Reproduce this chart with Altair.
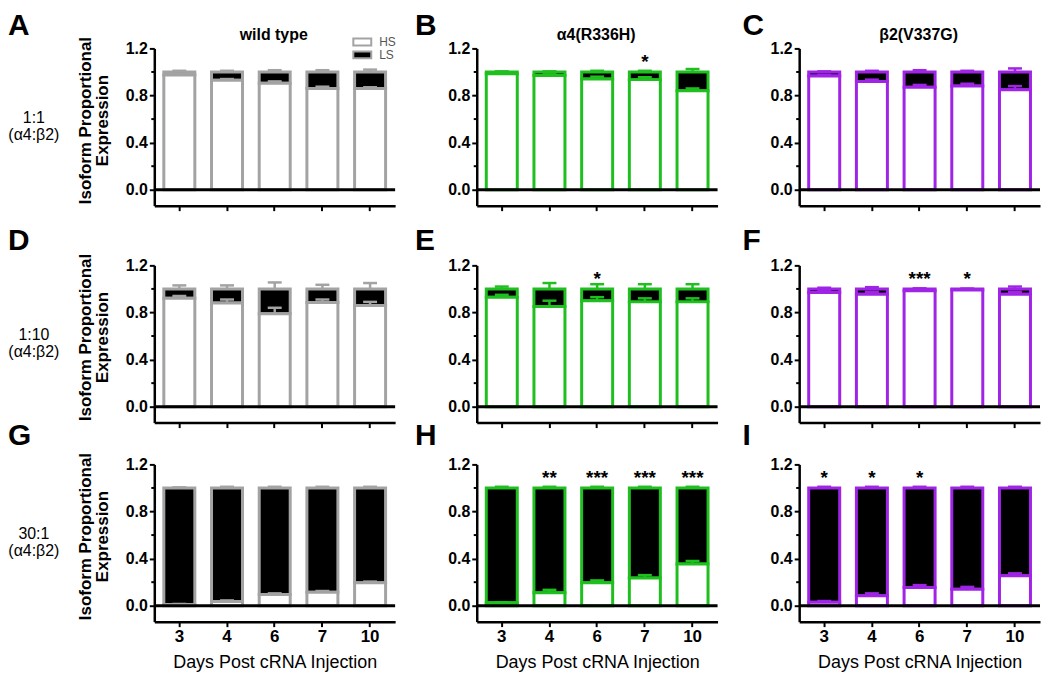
import altair as alt
import pandas as pd

FONT = "Liberation Sans"

DAYS = ["3", "4", "6", "7", "10"]
COL_TITLES = ["wild type", "α4(R336H)", "β2(V337G)"]
ROW_LABELS = ["1:1\n(α4:β2)", "1:10\n(α4:β2)", "30:1\n(α4:β2)"]
PANELS = [["A", "B", "C"], ["D", "E", "F"], ["G", "H", "I"]]
COLORS = ["#a3a3a3", "#1fbf1f", "#a024e6"]

# HS isoform proportion (mean) per day
HS = {
    "A": [0.975, 0.93, 0.905, 0.86, 0.86],
    "B": [0.985, 0.97, 0.94, 0.935, 0.84],
    "C": [0.965, 0.92, 0.87, 0.88, 0.85],
    "D": [0.92, 0.88, 0.79, 0.885, 0.86],
    "E": [0.93, 0.85, 0.90, 0.89, 0.89],
    "F": [0.97, 0.955, 0.985, 0.99, 0.955],
    "G": [0.01, 0.035, 0.095, 0.115, 0.195],
    "H": [0.025, 0.11, 0.195, 0.235, 0.355],
    "I": [0.03, 0.085, 0.155, 0.14, 0.255],
}
# SEM of HS proportion
HS_ERR = {
    "A": [0.01, 0.01, 0.015, 0.015, 0.01],
    "B": [0.005, 0.01, 0.02, 0.02, 0.02],
    "C": [0.01, 0.015, 0.02, 0.02, 0.03],
    "D": [0.02, 0.03, 0.05, 0.025, 0.03],
    "E": [0.02, 0.05, 0.03, 0.03, 0.03],
    "F": [0.01, 0.02, 0.005, 0.003, 0.02],
    "G": [0.005, 0.01, 0.01, 0.01, 0.01],
    "H": [0.005, 0.025, 0.02, 0.025, 0.025],
    "I": [0.01, 0.02, 0.02, 0.02, 0.02],
}
# SEM of LS proportion
LS_ERR = {
    "A": [0.01, 0.01, 0.015, 0.015, 0.02],
    "B": [0.005, 0.005, 0.01, 0.01, 0.025],
    "C": [0.005, 0.01, 0.015, 0.01, 0.03],
    "D": [0.03, 0.03, 0.055, 0.035, 0.05],
    "E": [0.02, 0.05, 0.04, 0.04, 0.04],
    "F": [0.01, 0.015, 0.005, 0.003, 0.02],
    "G": [0.005, 0.01, 0.01, 0.01, 0.01],
    "H": [0.01, 0.01, 0.01, 0.01, 0.01],
    "I": [0.01, 0.01, 0.01, 0.01, 0.01],
}
STARS = {
    "B": {"7": "*"},
    "E": {"6": "*"},
    "F": {"6": "***", "7": "*"},
    "H": {"4": "**", "6": "***", "7": "***", "10": "***"},
    "I": {"3": "*", "4": "*", "6": "*"},
}
Y_TICKS = [0.0, 0.4, 0.8, 1.2]
Y_MINOR = [0.2, 0.6, 1.0]
LEGEND = ["HS", "LS"]

W, H = 242, 158
Y_DOMAIN = [-0.135, 1.2]
ROW_GAPS = [60, 42]


def panel(r, c):
    key = PANELS[r][c]
    color = COLORS[c]
    df = pd.DataFrame({"day": DAYS, "hs": HS[key], "hs_err": HS_ERR[key], "ls_err": LS_ERR[key]})
    df["base"] = 0.0
    df["total"] = 1.0
    df["hs_top"] = df["hs"] + df["hs_err"]
    df["ls_top"] = df["total"] + df["ls_err"]
    one = pd.DataFrame({"k": [0]})

    last = r == 2
    xscale = alt.Scale(domain=DAYS, paddingInner=0.35, paddingOuter=0.2)
    xaxis = alt.Axis(
        labels=last, labelAngle=0, labelFontSize=17, labelFontWeight="bold", labelPadding=2,
        title="Days Post cRNA Injection" if last else None, titleFontSize=18,
        titleFontWeight="normal", titlePadding=9,
    )
    x = alt.X("day:N", sort=DAYS, scale=xscale, axis=xaxis)
    yscale = alt.Scale(domain=Y_DOMAIN, nice=False, zero=False)
    yaxis = alt.Axis(
        values=Y_TICKS, format=".1f", labelFontSize=16, labelFontWeight="bold", labelPadding=2,
        title=["Isoform Proportional", "Expression"] if c == 0 else None,
        titleFontSize=17, titleFontWeight="bold", titleLineHeight=17, titlePadding=14, titleY=72,
    )

    def Y(field):
        return alt.Y(field, scale=yscale, axis=yaxis)

    base = alt.Chart(df)
    ls_bar = base.mark_bar(fill="black", stroke=color, strokeWidth=3, opacity=1).encode(
        x=x, y=Y("hs:Q"), y2="total:Q")
    hs_bar = base.mark_bar(fill="white", stroke=color, strokeWidth=3, opacity=1).encode(
        x=x, y=Y("base:Q"), y2="hs:Q")
    hs_rule = base.mark_rule(color=color, strokeWidth=2.5).encode(x=x, y=Y("hs:Q"), y2="hs_top:Q")
    hs_cap = base.mark_tick(color=color, thickness=2.5, size=14, orient="horizontal", opacity=1).encode(
        x=x, y=Y("hs_top:Q"))
    ls_rule = base.mark_rule(color=color, strokeWidth=2.5).encode(x=x, y=Y("total:Q"), y2="ls_top:Q")
    ls_cap = base.mark_tick(color=color, thickness=2.5, size=14, orient="horizontal", opacity=1).encode(
        x=x, y=Y("ls_top:Q"))
    zero = alt.Chart(one).mark_rule(color="black", strokeWidth=3).encode(
        y=alt.Y(datum=0, scale=yscale, axis=yaxis))
    minor = alt.Chart(pd.DataFrame({"v": Y_MINOR})).mark_rule(color="black", strokeWidth=2).encode(
        y=Y("v:Q"), x=alt.value(-3), x2=alt.value(0))

    layers = [ls_bar, hs_bar, hs_rule, hs_cap, ls_rule, ls_cap, zero, minor]

    if key in STARS:
        sdf = pd.DataFrame({"day": list(STARS[key].keys()), "label": list(STARS[key].values())})
        layers.append(alt.Chart(sdf).mark_text(font=FONT, fontSize=19, fontWeight="bold", baseline="middle").encode(
            x=x, y=alt.Y(datum=1.085, scale=yscale, axis=yaxis), text="label:N"))

    # panel letter
    lx = {0: -147, 1: -62, 2: -57}[c]
    ly = {0: -13, 1: -15, 2: -19}[r]
    layers.append(alt.Chart(one).mark_text(text=key, font=FONT, fontSize=30, fontWeight="bold",
                                           align="left", baseline="alphabetic").encode(
        x=alt.value(lx), y=alt.value(ly)))
    if r == 0:
        layers.append(alt.Chart(one).mark_text(text=COL_TITLES[c], font=FONT, fontSize=16, fontWeight="bold",
                                               align="center", baseline="alphabetic").encode(
            x=alt.value(120), y=alt.value(-8)))
    if c == 0:
        layers.append(alt.Chart(one).mark_text(text=ROW_LABELS[r], font=FONT, fontSize=16, lineBreak="\n",
                                               lineHeight=17, align="center", baseline="middle").encode(
            x=alt.value(-121), y=alt.value(70)))
    if key == "A":
        for i, name in enumerate(LEGEND):
            ldf = pd.DataFrame({"name": [name]})
            y0 = -10 + i * 13
            layers.append(alt.Chart(ldf).mark_rect(fill="white" if name == "HS" else "black",
                                                   stroke=COLORS[0], strokeWidth=2).encode(
                x=alt.value(200), x2=alt.value(218), y=alt.value(y0), y2=alt.value(y0 + 7)))
            layers.append(alt.Chart(ldf).mark_text(font=FONT, fontSize=12, color="#555555", align="left",
                                                   baseline="middle").encode(
                x=alt.value(226), y=alt.value(y0 + 3.5), text="name:N"))

    return alt.layer(*layers).properties(width=W, height=H)


def spacer(h):
    return alt.Chart(pd.DataFrame({"k": [0]})).mark_point(opacity=0, size=1).encode(
        x=alt.value(0), y=alt.value(0)).properties(width=W, height=h)


cells = []
for r in range(3):
    cells += [panel(r, c) for c in range(3)]
    if r < 2:
        cells += [spacer(ROW_GAPS[r]) for _ in range(3)]

chart = alt.concat(
    *cells, columns=3, spacing=alt.RowColnumber(row=0, column=82), bounds="flush", align="each",
).properties(padding={"left": 0, "top": 2, "right": 0, "bottom": 0}).configure_view(stroke=None).configure_axis(
    domainColor="black", domainWidth=2.5, tickColor="black", tickWidth=2, tickSize=5,
    labelFont=FONT, titleFont=FONT, labelColor="black", titleColor="black", grid=False,
)

chart.save("out.html", embed_options={"renderer": "svg", "actions": False})
